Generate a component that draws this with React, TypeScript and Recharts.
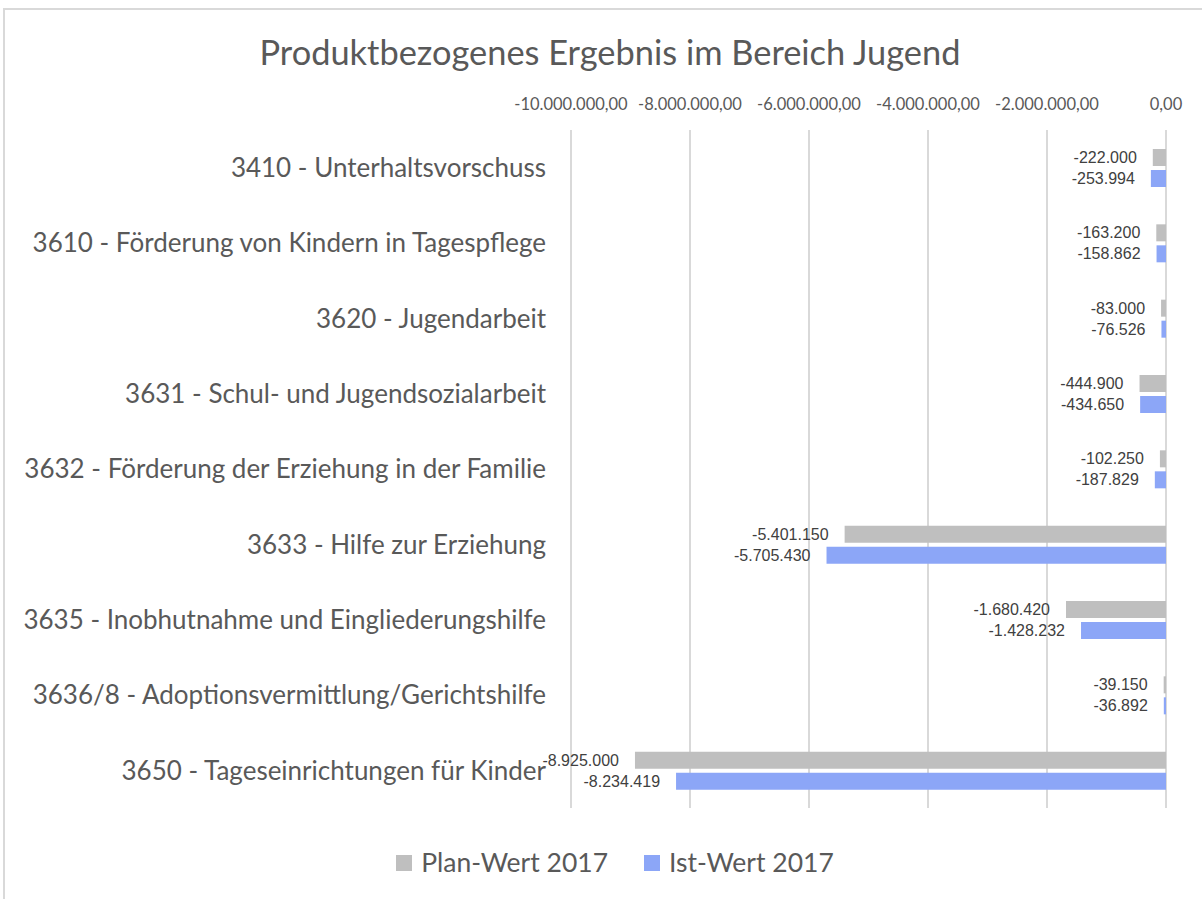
import React from 'react';
import { BarChart, Bar, XAxis, YAxis, CartesianGrid, LabelList, Legend } from 'recharts';

const categories = [
  '3410 - Unterhaltsvorschuss',
  '3610 - Förderung von Kindern in Tagespflege',
  '3620 - Jugendarbeit',
  '3631 - Schul- und Jugendsozialarbeit',
  '3632 - Förderung der Erziehung in der Familie',
  '3633 - Hilfe zur Erziehung',
  '3635 - Inobhutnahme und Eingliederungshilfe',
  '3636/8 - Adoptionsvermittlung/Gerichtshilfe',
  '3650 - Tageseinrichtungen für Kinder',
];
const planValues = [-222000, -163200, -83000, -444900, -102250, -5401150, -1680420, -39150, -8925000];
const istValues = [-253994, -158862, -76526, -434650, -187829, -5705430, -1428232, -36892, -8234419];
const xTicks = [-10000000, -8000000, -6000000, -4000000, -2000000, 0];

const seriesNames = { plan: 'Plan-Wert 2017', ist: 'Ist-Wert 2017' };
const colors = { plan: '#BFBFBF', ist: '#8CA6F7' };

const data = categories.map((c, i) => ({ name: c, plan: planValues[i], ist: istValues[i] }));

const groupThousands = (n: number) => {
  const s = Math.abs(Math.round(n)).toString();
  return s.replace(/\B(?=(\d{3})+(?!\d))/g, '.');
};
const fmtLabel = (v: number) => (v < 0 ? '-' : '') + groupThousands(v);
const fmtTick = (v: number) => (v < 0 ? '-' : '') + groupThousands(v) + ',00';

const FONT = 'Lato, "Open Sans", sans-serif';

const BarValueLabel = (props: any) => {
  const x = Number(props.x);
  const w = Number(props.width);
  const y = Number(props.y);
  const h = Number(props.height);
  const left = Math.min(x, x + w);
  return (
    <text
      x={left - 16}
      y={y + h / 2}
      textAnchor="end"
      dominantBaseline="central"
      fontSize={16}
      fontFamily='"Liberation Sans", Arial, sans-serif'
      fill="#404040"
    >
      {fmtLabel(Number(props.value))}
    </text>
  );
};

const LegendContent = () => (
  <div style={{ display: 'flex', justifyContent: 'center', gap: 36, fontFamily: FONT, fontSize: 26.5, color: '#595959', paddingLeft: 64, lineHeight: '33px' }}>
    {(['plan', 'ist'] as const).map((k) => (
      <div key={k} style={{ display: 'flex', alignItems: 'center' }}>
        <span style={{ display: 'inline-block', width: 16, height: 16, background: colors[k], marginRight: 9 }} />
        <span>{seriesNames[k]}</span>
      </div>
    ))}
  </div>
);

export default function App() {
  return (
    <div style={{ position: 'absolute', left: 0, top: 0, width: 1202, height: 899, overflow: 'hidden', background: '#fff' }}>
      <div style={{ position: 'absolute', left: 3, top: 8, width: 1260, height: 960, border: '2px solid #D9D9D9', boxSizing: 'border-box' }} />
      <div style={{ position: 'absolute', left: 0, top: 30, width: 1220, textAlign: 'center', fontFamily: FONT, fontSize: 34.4, color: '#595959', lineHeight: '44px' }}>
        Produktbezogenes Ergebnis im Bereich Jugend
      </div>
      <div style={{ position: 'absolute', left: 0, top: 0 }}>
        <BarChart
          width={1202}
          height={899}
          data={data}
          layout="vertical"
          margin={{ top: 100, right: 36, bottom: 58, left: 0 }}
          barSize={17}
          barGap={4}
        >
          <CartesianGrid vertical horizontal={false} stroke="#D9D9D9" strokeWidth={2} />
          <XAxis
            type="number"
            orientation="top"
            domain={[-10000000, 0]}
            ticks={xTicks}
            tickFormatter={fmtTick}
            axisLine={false}
            tickLine={false}
            tickSize={0}
            tickMargin={20}
            height={30}
            interval={0}
            tick={{ fontSize: 16.5, fontFamily: FONT, fill: '#595959' }}
          />
          <YAxis
            type="category"
            dataKey="name"
            width={571}
            axisLine={false}
            tickLine={false}
            tickSize={0}
            tickMargin={25}
            interval={0}
            tick={{ fontSize: 26, fontFamily: FONT, fill: '#595959' }}
          />
          <Legend
            verticalAlign="bottom"
            content={<LegendContent />}
            wrapperStyle={{ bottom: 20 }}
          />
          <Bar dataKey="plan" name={seriesNames.plan} fill={colors.plan} isAnimationActive={false}>
            <LabelList dataKey="plan" content={<BarValueLabel />} />
          </Bar>
          <Bar dataKey="ist" name={seriesNames.ist} fill={colors.ist} isAnimationActive={false}>
            <LabelList dataKey="ist" content={<BarValueLabel />} />
          </Bar>
        </BarChart>
      </div>
    </div>
  );
}
